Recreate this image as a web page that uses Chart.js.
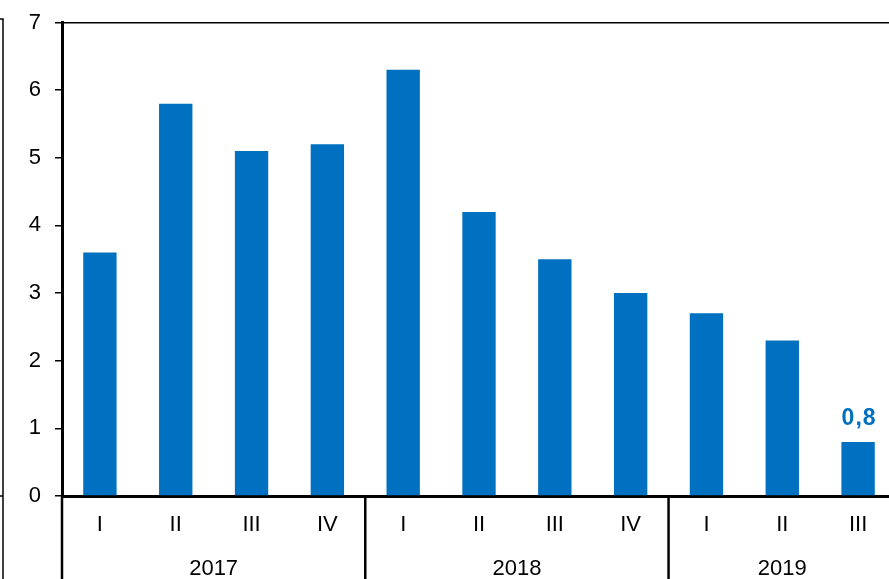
<!DOCTYPE html>
<html>
<head>
<meta charset="utf-8">
<script src="https://cdn.jsdelivr.net/npm/chart.js@4/dist/chart.umd.min.js"></script>
<style>
  html, body { margin: 0; padding: 0; background: #fff; overflow: hidden; }
  #wrap { width: 900px; height: 579px; }
</style>
</head>
<body>
<div id="wrap"><canvas id="gdpChart" width="900" height="579"></canvas></div>
<script>
// Quarterly growth, bars grouped by year

var quarters = ['I', 'II', 'III', 'IV', 'I', 'II', 'III', 'IV', 'I', 'II', 'III'];
var years = ['2017', '2018', '2019'];
var quartersPerYear = [4, 4, 3];
var growth = [3.6, 5.8, 5.1, 5.2, 6.3, 4.2, 3.5, 3.0, 2.7, 2.3, 0.8];
var labelledBars = [10];

var barColor = '#0070C0';
var fontFamily = '"Liberation Sans", Arial, sans-serif';

function formatValue(v) {
  return v.toFixed(1).replace('.', ',');
}

// year groups, separators and the value label
var groupsPlugin = {
  id: 'groups',
  afterDraw: function (chart) {
    var ctx = chart.ctx;
    var x = chart.scales.x;
    var area = chart.chartArea;
    var half = (x.getPixelForValue(1) - x.getPixelForValue(0)) / 2;
    var bottom = chart.height;

    ctx.save();
    ctx.strokeStyle = '#000';
    ctx.lineWidth = 2.5;

    var start = 0;
    for (var i = 0; i < years.length; i++) {
      var left = x.getPixelForValue(start) - half;
      var right = x.getPixelForValue(start + quartersPerYear[i] - 1) + half;
      ctx.beginPath();
      ctx.moveTo(left, area.bottom);
      ctx.lineTo(left, bottom);
      ctx.stroke();

      ctx.fillStyle = '#000';
      ctx.font = '22px ' + fontFamily;
      ctx.textAlign = 'center';
      ctx.textBaseline = 'middle';
      ctx.fillText(years[i], (left + right) / 2, 569);
      start += quartersPerYear[i];
    }

    // value label above the last bar
    var meta = chart.getDatasetMeta(0);
    ctx.fillStyle = barColor;
    ctx.font = 'bold 23px ' + fontFamily;
    ctx.letterSpacing = '1px';
    ctx.textAlign = 'center';
    ctx.textBaseline = 'alphabetic';
    labelledBars.forEach(function (idx) {
      var bar = meta.data[idx];
      ctx.fillText(formatValue(growth[idx]), bar.x + 1, bar.y - 17);
    });
    ctx.letterSpacing = '0px';

    // edge of the neighbouring frame
    ctx.lineWidth = 1.5;
    ctx.beginPath();
    ctx.moveTo(0, 19);
    ctx.lineTo(3, 19);
    ctx.lineTo(3, bottom);
    ctx.moveTo(0, area.bottom);
    ctx.lineTo(3, area.bottom);
    ctx.stroke();
    ctx.restore();
  }
};

var config = {
  type: 'bar',
  data: {
    labels: quarters,
    datasets: [{
      data: growth,
      backgroundColor: barColor,
      borderWidth: 0,
      barPercentage: 0.44,
      categoryPercentage: 1
    }]
  },
  options: {
    responsive: false,
    animation: false,
    layout: { padding: { left: 0, top: 22, right: 4, bottom: 0 } },
    plugins: {
      legend: { display: false },
      tooltip: { enabled: false }
    },
    scales: {
      x: {
        afterFit: function (scale) { scale.height = 83; },
        grid: { display: false, drawTicks: false },
        border: { display: true, color: '#000', width: 3 },
        ticks: {
          color: '#000',
          padding: 16,
          font: { family: fontFamily, size: 22 }
        }
      },
      y: {
        min: 0,
        max: 7,
        afterFit: function (scale) { scale.width = 62; },
        grid: {
          drawOnChartArea: true,
          color: function (c) { return c.tick && c.tick.value === 7 ? '#000' : 'rgba(0,0,0,0)'; },
          lineWidth: 1.5,
          tickColor: '#000',
          tickLength: 7
        },
        border: { display: true, color: '#000', width: 3 },
        ticks: {
          stepSize: 1,
          color: '#000',
          padding: 14,
          font: { family: fontFamily, size: 22, lineHeight: 0.77 }
        }
      }
    }
  },
  plugins: [groupsPlugin]
};

new Chart(document.getElementById('gdpChart').getContext('2d'), config);
</script>
</body>
</html>
